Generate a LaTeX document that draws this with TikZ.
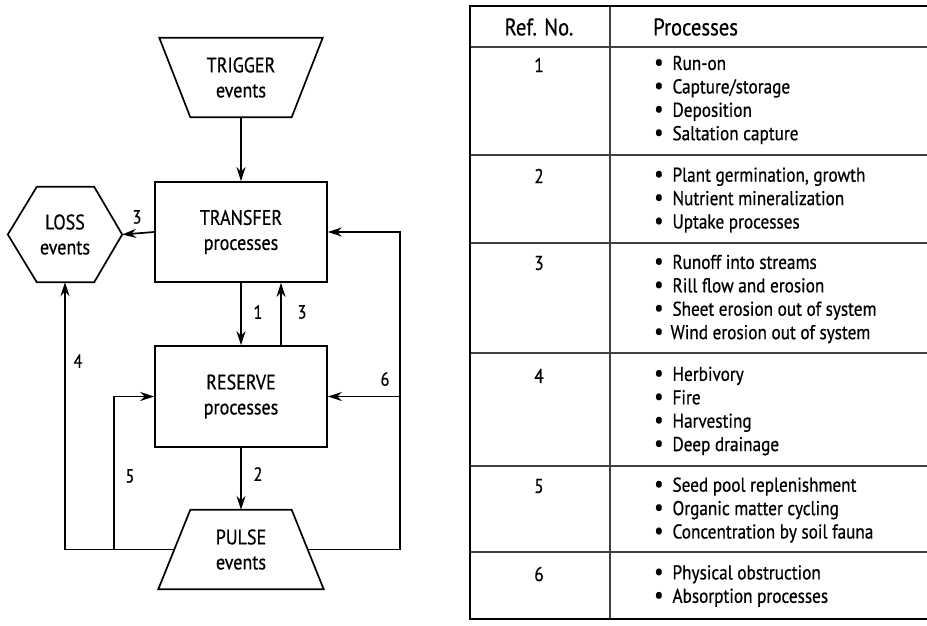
\documentclass[tikz,border=0pt]{standalone}
\usepackage{fontspec}
\setmainfont[FakeStretch=0.86,FakeBold=0.6]{PT Sans}
\usetikzlibrary{arrows.meta,calc}
\tikzset{
  arr/.style={line width=1.7pt,-{Stealth[length=14pt,width=9pt]}},
  ln/.style={line width=1.7pt},
  lbl/.style={font=\fontsize{19}{20}\selectfont,inner sep=0pt},
  txt/.style={font=\fontsize{21}{25}\selectfont,align=center,inner sep=0pt},
  cell/.style={font=\fontsize{20}{23.4}\selectfont,align=left,inner sep=0pt,anchor=west},
  num/.style={font=\fontsize{20}{23.4}\selectfont,inner sep=0pt},
  head/.style={font=\fontsize{24}{26}\selectfont,inner sep=0pt},
  tline/.style={line width=1.5pt,draw=black!75},
  tframe/.style={line width=2.2pt,draw=black}
}
\newcommand{\bl}{{\fontsize{24}{23.4}\selectfont\textbullet}\hspace{9pt}}
\begin{document}
\begin{tikzpicture}[x=1pt,y=-1pt]
\useasboundingbox (0,0) rectangle (927,625);
% ---------- diagram ----------
\node[txt,minimum width=163pt,minimum height=79pt] (trig) at (241,77.5) {TRIGGER\\events};
\draw[ln] (trig.north west) -- (trig.north east) -- ([xshift=-31pt]trig.south east) -- ([xshift=31pt]trig.south west) -- cycle;

\node[txt,draw,ln,minimum width=172pt,minimum height=100pt] (transfer) at (241,232) {TRANSFER\\processes};
\node[txt,draw,ln,minimum width=172pt,minimum height=101pt] (reserve) at (241,396.5) {RESERVE\\processes};

\node[txt,minimum width=114pt,minimum height=95pt] (loss) at (65,234.5) {LOSS\\events};
\draw[ln] (loss.west) -- ([xshift=29pt]loss.north west) -- ([xshift=-28pt]loss.north east) -- (loss.east) -- ([xshift=-28pt]loss.south east) -- ([xshift=29pt]loss.south west) -- cycle;

\node[txt,minimum width=165pt,minimum height=79pt] (pulse) at (241,549.5) {PULSE\\events};
\draw[ln] ([xshift=32pt]pulse.north west) -- ([xshift=-32pt]pulse.north east) -- (pulse.south east) -- (pulse.south west) -- cycle;
\coordinate (pL) at ([xshift=16pt]pulse.west);
\coordinate (pR) at ([xshift=-16pt]pulse.east);
\coordinate (rt) at (400,232);
\coordinate (j5) at (114,549.5);

\draw[arr] (trig.south) -- (transfer.north);
\draw[arr] (transfer.west) -- (loss.east);
\draw[arr] (transfer.south) -- (reserve.north);
\draw[arr] ([xshift=40pt]reserve.north) -- ([xshift=40pt]transfer.south);
\draw[arr] (reserve.south) -- (pulse.north);
\draw[arr] (pL) -- (loss.south |- pL) -- (loss.south);
\draw[arr] (j5) |- (reserve.west);
\draw[arr] (pR) -- (pR -| rt) -- (rt) -- (transfer.east);
\draw[arr] (rt |- reserve.east) -- (reserve.east);

\node[lbl] (l3a) at (137,217) {3};
\node[lbl] (l1) at (258,312) {1};
\node[lbl] (l3b) at (302,312) {3};
\node[lbl] (l4) at (78,361) {4};
\node[lbl] (l6) at (385,379) {6};
\node[lbl] (l5) at (130,476) {5};
\node[lbl] (l2) at (258,474) {2};

% ---------- table ----------
\foreach \y in {47,155,243,353,466,552} \draw[tline] (470,\y) -- (927,\y);
\draw[tline] (610,6) -- (610,619);
\draw[tframe] (927,6) -- (470,6) -- (470,619) -- (927,619);

\node[head] (h1) at (539,27) {Ref. No.};
\node[head,anchor=west] (h2) at (653,27) {Processes};

\node[num] (n1) at (539,65) {1};
\node[cell] (c1) at (654,100) {\bl Run-on\\\bl Capture/storage\\\bl Deposition\\\bl Saltation capture};
\node[num] (n2) at (539,176) {2};
\node[cell] (c2) at (654,200) {\bl Plant germination, growth\\\bl Nutrient mineralization\\\bl Uptake processes};
\node[num] (n3) at (539,263) {3};
\node[cell] (c3) at (654,299) {\bl Runoff into streams\\\bl Rill flow and erosion\\\bl Sheet erosion out of system\\\bl\hspace{-2pt}Wind erosion out of system};
\node[num] (n4) at (539,376) {4};
\node[cell] (c4) at (654,411) {\bl Herbivory\\\bl Fire\\\bl Harvesting\\\bl Deep drainage};
\node[num] (n5) at (539,486) {5};
\node[cell] (c5) at (654,510) {\bl Seed pool replenishment\\\bl Organic matter cycling\\\bl Concentration by soil fauna};
\node[num] (n6) at (539,574) {6};
\node[cell] (c6) at (654,586) {\bl Physical obstruction\\\bl Absorption processes};
\end{tikzpicture}
\end{document}
